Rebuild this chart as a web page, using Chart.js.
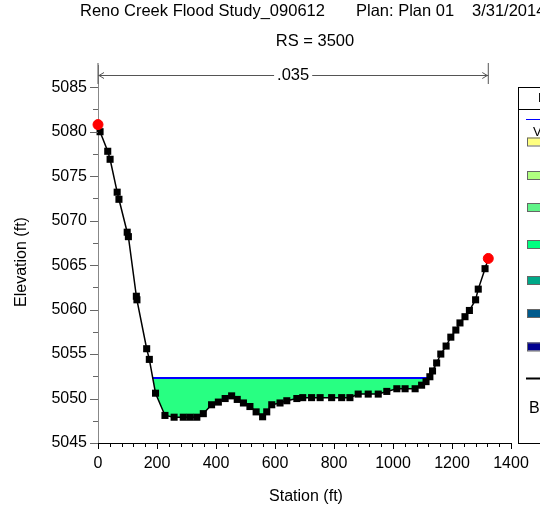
<!DOCTYPE html>
<html>
<head>
<meta charset="utf-8">
<script src="https://cdn.jsdelivr.net/npm/chart.js@4.4.1/dist/chart.umd.min.js"></script>
<style>
html, body { margin: 0; padding: 0; background: #fff; }
</style>
</head>
<body>
<canvas id="myChart" width="540" height="518"></canvas>
<script>
// ground profile of the cross section (station ft, elevation ft)
const stations = [0, 7, 33, 41, 65, 71, 99, 103, 130, 132, 165, 174, 195, 227, 258, 289, 312, 335,
    357, 385, 408, 431, 453, 472, 493, 515, 536, 558, 572, 589, 617, 640, 674, 694, 724, 753,
    792, 826, 854, 882, 916, 950, 979, 1013, 1041, 1075, 1097, 1112, 1125, 1134, 1148, 1162,
    1180, 1196, 1213, 1227, 1244, 1259, 1280, 1289, 1312, 1323];
const elevations = [5080.8, 5080.0, 5077.8, 5076.9, 5073.2, 5072.4, 5068.7, 5068.2, 5061.5, 5061.1,
    5055.6, 5054.4, 5050.6, 5048.1, 5047.9, 5047.9, 5047.9, 5047.9, 5048.3, 5049.3, 5049.6,
    5050.0, 5050.3, 5049.9, 5049.5, 5049.1, 5048.5, 5047.95, 5048.5, 5049.3, 5049.5, 5049.75,
    5050.0, 5050.1, 5050.1, 5050.1, 5050.1, 5050.1, 5050.1, 5050.5, 5050.5, 5050.5, 5050.8,
    5051.1, 5051.1, 5051.1, 5051.5, 5051.9, 5052.45, 5053.1, 5054.0, 5055.0, 5055.9, 5056.9,
    5057.7, 5058.5, 5059.2, 5059.9, 5061.1, 5062.3, 5064.6, 5065.75];
const bankStations = [0, 1323];
const bankElevations = [5080.8, 5065.75];
const wsStations = [186, 1121];
const wsElevation = 5052.3;
const nLabel = '.035';
const nStations = [0, 1323];
const xTicks = [0, 200, 400, 600, 800, 1000, 1200, 1400];
const yTicks = [5045, 5050, 5055, 5060, 5065, 5070, 5075, 5080, 5085];
const legendLabels = ['Legend', 'WS PF 1', 'Vel Dist', '0.0 ft/s', '0.5 ft/s', '1.0 ft/s', '1.5 ft/s', '2.0 ft/s', '2.5 ft/s', '3.0 ft/s', 'Ground', 'Bank Sta'];

const FONT = 'Liberation Sans, Arial, sans-serif';
const velColors = ['#ffff80', '#b0ff80', '#60f488', '#00ff80', '#00a888', '#005a8c', '#000090'];

const ticksPlugin = {
    id: 'minorTicks',
    afterDraw(chart) {
        const ctx = chart.ctx;
        const xs = chart.scales.x, ys = chart.scales.y;
        ctx.save();
        ctx.lineWidth = 1;
        ctx.strokeStyle = '#000';
        for (let v = 0; v <= 1400; v += 40) {
            let px = Math.round(xs.getPixelForValue(v)) + 0.5;
            let len = v % 200 === 0 ? 6 : 4;
            ctx.beginPath();
            ctx.moveTo(px, xs.top);
            ctx.lineTo(px, xs.top + len);
            ctx.stroke();
        }
        ctx.strokeStyle = '#666';
        for (let v = 5045; v <= 5085; v += 2.5) {
            let py = Math.round(ys.getPixelForValue(v)) + 0.5;
            let len = v % 5 === 0 ? 8 : 5;
            ctx.beginPath();
            ctx.moveTo(ys.right - len, py);
            ctx.lineTo(ys.right, py);
            ctx.stroke();
        }
        // axis titles
        ctx.fillStyle = '#000';
        ctx.font = '16px ' + FONT;
        ctx.textAlign = 'center';
        ctx.textBaseline = 'middle';
        ctx.fillText('Station (ft)', 306, 497);
        ctx.translate(22, 262);
        ctx.rotate(-Math.PI / 2);
        ctx.fillText('Elevation (ft)', 0, 0);
        ctx.restore();
    }
};

const headerPlugin = {
    id: 'header',
    afterDraw(chart) {
        const ctx = chart.ctx;
        const xs = chart.scales.x;
        ctx.save();
        ctx.fillStyle = '#000';
        ctx.font = '16.5px ' + FONT;
        ctx.textBaseline = 'middle';
        ctx.textAlign = 'left';
        ctx.fillText('Reno Creek Flood Study_090612', 80, 11);
        ctx.fillText('Plan: Plan 01', 356, 11);
        ctx.fillText('3/31/2014', 472, 11);
        ctx.textAlign = 'center';
        ctx.fillText('RS = 3500', 315, 41);

        // roughness value arrow
        let x1 = xs.getPixelForValue(nStations[0]);
        let x2 = xs.getPixelForValue(nStations[1]);
        let y = 75.5;
        ctx.strokeStyle = '#555';
        ctx.lineWidth = 1;
        ctx.beginPath();
        ctx.moveTo(x1, 63); ctx.lineTo(x1, 84);
        ctx.moveTo(x2, 63); ctx.lineTo(x2, 84);
        let mid = (x1 + x2) / 2;
        let tw = ctx.measureText(nLabel).width;
        ctx.moveTo(x1, y); ctx.lineTo(mid - tw / 2 - 3, y);
        ctx.moveTo(mid + tw / 2 + 3, y); ctx.lineTo(x2, y);
        ctx.moveTo(x1 + 6, y - 3); ctx.lineTo(x1 + 1, y); ctx.lineTo(x1 + 6, y + 3);
        ctx.moveTo(x2 - 6, y - 3); ctx.lineTo(x2 - 1, y); ctx.lineTo(x2 - 6, y + 3);
        ctx.stroke();
        ctx.fillText(nLabel, mid, y);
        ctx.restore();
    }
};

const legendPlugin = {
    id: 'legendBox',
    afterDraw(chart) {
        const ctx = chart.ctx;
        ctx.save();
        ctx.strokeStyle = '#000';
        ctx.lineWidth = 1;
        ctx.strokeRect(518.5, 87.5, 60, 356);
        ctx.beginPath();
        ctx.moveTo(518.5, 109.5); ctx.lineTo(580, 109.5);
        ctx.stroke();
        ctx.font = '13px ' + FONT;
        ctx.fillStyle = '#000';
        ctx.textBaseline = 'middle';
        ctx.fillText(legendLabels[0], 538, 98);
        // WS line
        ctx.strokeStyle = '#0000ff';
        ctx.beginPath(); ctx.moveTo(526, 119.5); ctx.lineTo(560, 119.5); ctx.stroke();
        ctx.fillText(legendLabels[1], 562, 119);
        ctx.fillText(legendLabels[2], 533, 132);
        const rowY = [141.5, 175, 207, 244, 280, 313, 346.5];
        velColors.forEach((c, i) => {
            ctx.fillStyle = c;
            ctx.fillRect(527, rowY[i] - 4, 14, 8);
            ctx.strokeStyle = '#666';
            ctx.strokeRect(527.5, rowY[i] - 3.5, 14, 8);
            ctx.fillStyle = '#000';
            ctx.fillText(legendLabels[3 + i], 546, rowY[i]);
        });
        ctx.strokeStyle = '#000';
        ctx.lineWidth = 2;
        ctx.beginPath(); ctx.moveTo(526, 378.5); ctx.lineTo(560, 378.5); ctx.stroke();
        ctx.fillText(legendLabels[10], 562, 378);
        ctx.font = '16px ' + FONT;
        ctx.fillText(legendLabels[11], 529, 409);
        ctx.restore();
    }
};

let groundData = stations.map((s, i) => ({x: s, y: elevations[i]}));
let bankData = bankStations.map((s, i) => ({x: s, y: bankElevations[i]}));
let wsData = wsStations.map(s => ({x: s, y: wsElevation}));

let config = {
    type: 'scatter',
    data: {
        datasets: [{
            label: 'Bank Sta',
            data: bankData,
            showLine: false,
            pointStyle: 'circle',
            pointRadius: 5,
            pointBackgroundColor: '#ff0000',
            pointBorderColor: '#ff0000',
            clip: false
        }, {
            label: 'Ground',
            data: groundData,
            showLine: true,
            borderColor: '#000',
            borderWidth: 1.5,
            pointStyle: 'rect',
            pointRadius: 5,
            pointBackgroundColor: '#000',
            pointBorderColor: '#000',
            pointBorderWidth: 0,
            fill: false,
            clip: false
        }, {
            label: 'WS PF 1',
            data: wsData,
            showLine: true,
            borderColor: '#0000ff',
            borderWidth: 2,
            pointRadius: 0,
            backgroundColor: 'rgb(40,255,130)',
            fill: 1,
            clip: false
        }]
    },
    options: {
        responsive: false,
        animation: false,
        devicePixelRatio: 1,
        layout: { padding: { top: 65, right: 29, bottom: 0, left: 0 } },
        plugins: { legend: { display: false }, tooltip: { enabled: false } },
        scales: {
            x: {
                type: 'linear',
                min: 0,
                max: 1400,
                afterBuildTicks: s => { s.ticks = xTicks.map(v => ({value: v})); },
                afterFit: s => { s.height = 75; },
                grid: { display: false, drawTicks: false },
                border: { display: true, color: '#000', width: 1 },
                ticks: { color: '#000', font: { family: FONT, size: 16 }, padding: 11, maxRotation: 0,
                    callback: v => String(v) },
                title: { display: false }
            },
            y: {
                type: 'linear',
                min: 5045,
                max: 5087.5,
                afterBuildTicks: s => { s.ticks = yTicks.map(v => ({value: v})); },
                afterFit: s => { s.width = 98; },
                grid: { display: false, drawTicks: false },
                border: { display: true, color: '#888', width: 1 },
                ticks: { color: '#000', font: { family: FONT, size: 16 }, padding: 11,
                    callback: v => String(v) },
                title: { display: false }
            }
        }
    },
    plugins: [ticksPlugin, headerPlugin, legendPlugin]
};

new Chart(document.getElementById('myChart').getContext('2d'), config);
</script>
</body>
</html>
